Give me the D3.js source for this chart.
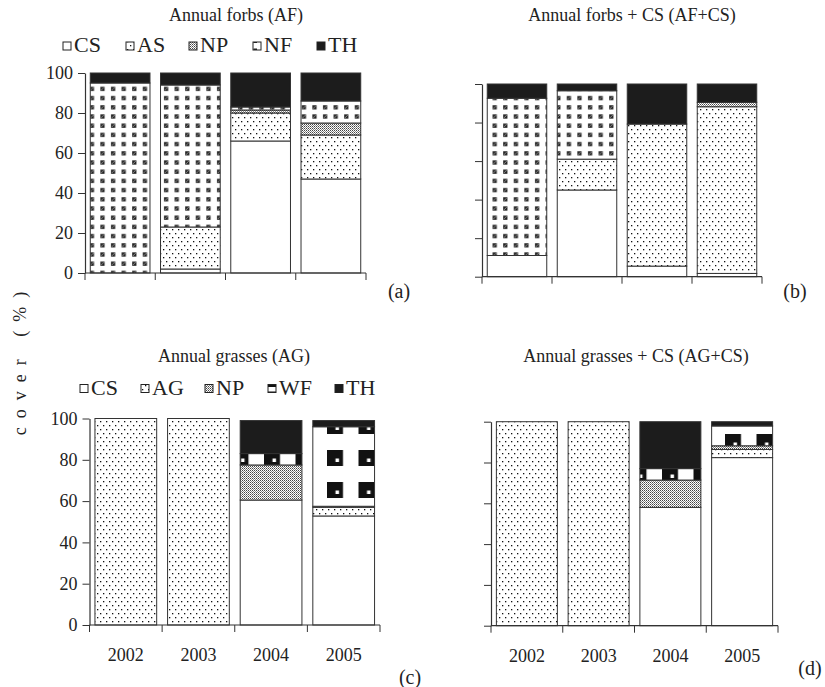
<!DOCTYPE html>
<html>
<head>
<meta charset="utf-8">
<script src="https://cdn.jsdelivr.net/npm/d3@7"></script>
<style>
html,body{margin:0;padding:0;background:#fff;}
svg{display:block;}
text{font-family:"Liberation Serif","DejaVu Serif",serif;fill:#222;}
</style>
</head>
<body>
<svg id="chart" width="825" height="687"></svg>
<script>
// ---------- data ----------
const years = ["2002", "2003", "2004", "2005"];
const yTicks = [0, 20, 40, 60, 80, 100];

// (a) Annual forbs (AF)
const afKeys = ["CS", "AS", "NP", "NF", "TH"];
const afCS = [0, 2, 66, 47];
const afAS = [0, 21, 14, 22];
const afNP = [0, 0, 1.5, 6];
const afNF = [95, 71, 1.5, 11];
const afTH = [5, 6, 17, 14];

// (b) Annual forbs + CS (AF+CS)
const afcsCS = [11, 45, 5.5, 1.7];
const afcsAS = [0, 16, 73.7, 86.5];
const afcsNP = [0, 0, 0, 2.3];
const afcsNF = [81.6, 35.5, 0, 0];
const afcsTH = [7.4, 3.5, 20.8, 9.5];

// (c) Annual grasses (AG)
const agKeys = ["CS", "AG", "NP", "WF", "TH"];
const agCS = [0, 0, 60.5, 52.8];
const agAG = [100, 100, 0, 4.2];
const agNP = [0, 0, 17, 0.5];
const agWF = [0, 0, 5.5, 38.5];
const agTH = [0, 0, 16, 3];

// (d) Annual grasses + CS (AG+CS)
const agcsCS = [0, 0, 58, 82.4];
const agcsAG = [100, 100, 0, 4];
const agcsNP = [0, 0, 13.4, 1.8];
const agcsWF = [0, 0, 5.6, 9.7];
const agcsTH = [0, 0, 23, 2.1];

// ---------- build tables ----------
function table(keys, cols) {
  return years.map((yr, i) => {
    const o = {year: yr};
    keys.forEach((k, j) => o[k] = cols[j][i]);
    return o;
  });
}

const svg = d3.select("#chart");
const defs = svg.append("defs");

// patterns
function pat(id, w, h, x0, y0) {
  return defs.append("pattern").attr("id", id).attr("patternUnits", "userSpaceOnUse")
    .attr("width", w).attr("height", h).attr("x", x0 || 0).attr("y", y0 || 0);
}
// dots (AS / AG)
let p = pat("dots", 6, 8);
p.append("rect").attr("width", 6).attr("height", 8).attr("fill", "#fff");
p.append("rect").attr("x", 1).attr("y", 1).attr("width", 1.3).attr("height", 1.3).attr("fill", "#111");
p.append("rect").attr("x", 4).attr("y", 5).attr("width", 1.3).attr("height", 1.3).attr("fill", "#111");
// dense stipple (NP)
p = pat("np", 2, 2);
p.append("rect").attr("width", 2).attr("height", 2).attr("fill", "#fff");
p.append("rect").attr("width", 1).attr("height", 1).attr("fill", "#444");
p.append("rect").attr("x", 1).attr("y", 1).attr("width", 1).attr("height", 1).attr("fill", "#888");
// squares (NF)
p = pat("nf", 10.6, 9.2, 2, 1);
p.append("rect").attr("width", 10.6).attr("height", 9.2).attr("fill", "#fff");
p.append("rect").attr("x", 3).attr("y", 3).attr("width", 4.2).attr("height", 4.2).attr("fill", "#222");
p.append("path").attr("d", "M3.8,6.4 L6.4,3.8").attr("stroke", "#999").attr("stroke-width", 0.9);
// legend NF icon
p = pat("nfIcon", 9, 9);
p.append("rect").attr("width", 9).attr("height", 9).attr("fill", "#fff");
p.append("rect").attr("x", 1.5).attr("y", 3.5).attr("width", 3.5).attr("height", 3.5).attr("fill", "#222");
// WF big squares (panel c & d phases)
function wf(id, x0, y0) {
  const q = pat(id, 31.5, 32, x0, y0);
  q.append("rect").attr("width", 31.5).attr("height", 32).attr("fill", "#fff");
  q.append("rect").attr("width", 16).attr("height", 16).attr("fill", "#111");
  q.append("rect").attr("x", 8.5).attr("y", 8.5).attr("width", 3.5).attr("height", 3.5).attr("fill", "#fff");
}
wf("wfc", 327, 450);
wf("wfd", 662, 434);
// legend WF icon
p = pat("wfIcon", 9, 9);
p.append("rect").attr("width", 9).attr("height", 9).attr("fill", "#fff");
p.append("rect").attr("y", 4.5).attr("width", 9).attr("height", 4.5).attr("fill", "#111");

const TH = "#1c1c1c";

const panels = [
  {keys: afKeys, data: table(afKeys, [afCS, afAS, afNP, afNF, afTH]),
   fills: {CS: "#fff", AS: "url(#dots)", NP: "url(#np)", NF: "url(#nf)", TH: TH},
   x0: 85, x1: 366, y0: 273, y1: 73, labels: true, xlabels: false,
   title: "Annual forbs (AF)", tx: 236, ty: 21, tag: "(a)", tagx: 399, tagy: 298},
  {keys: afKeys, data: table(afKeys, [afcsCS, afcsAS, afcsNP, afcsNF, afcsTH]),
   fills: {CS: "#fff", AS: "url(#dots)", NP: "url(#np)", NF: "url(#nf)", TH: TH},
   x0: 482, x1: 762, y0: 276.7, y1: 84, labels: false, xlabels: false,
   title: "Annual forbs + CS (AF+CS)", tx: 632, ty: 21, tag: "(b)", tagx: 795, tagy: 298},
  {keys: agKeys, data: table(agKeys, [agCS, agAG, agNP, agWF, agTH]),
   fills: {CS: "#fff", AG: "url(#dots)", NP: "url(#np)", WF: "url(#wfc)", TH: TH},
   x0: 89.5, x1: 380, y0: 625, y1: 418.5, labels: true, xlabels: true,
   title: "Annual grasses (AG)", tx: 234, ty: 362, tag: "(c)", tagx: 410, tagy: 684},
  {keys: agKeys, data: table(agKeys, [agcsCS, agcsAG, agcsNP, agcsWF, agcsTH]),
   fills: {CS: "#fff", AG: "url(#dots)", NP: "url(#np)", WF: "url(#wfd)", TH: TH},
   x0: 491, x1: 778, y0: 625.7, y1: 421.7, labels: false, xlabels: true,
   title: "Annual grasses + CS (AG+CS)", tx: 636, ty: 362, tag: "(d)", tagx: 810, tagy: 675}
];

panels.forEach(P => {
  const g = svg.append("g");
  const xb = d3.scaleBand().domain(years).range([P.x0, P.x1]).paddingInner(0.15).paddingOuter(0.075);
  const xc = d3.scaleBand().domain(years).range([P.x0, P.x1]).padding(0);
  const y = d3.scaleLinear().domain([0, 100]).range([P.y0, P.y1]);

  const series = d3.stack().keys(P.keys)(P.data);
  series.forEach(s => {
    g.selectAll(null).data(s.filter(d => d[1] - d[0] > 0)).join("rect")
      .attr("x", d => xb(d.data.year))
      .attr("width", xb.bandwidth())
      .attr("y", d => y(d[1]))
      .attr("height", d => y(d[0]) - y(d[1]))
      .attr("fill", P.fills[s.key])
      .attr("stroke", "#333").attr("stroke-width", 1);
  });

  // y axis
  const ya = d3.axisLeft(y).tickValues(yTicks).tickSize(7).tickSizeOuter(0)
    .tickFormat(P.labels ? d3.format("d") : () => "");
  const yg = g.append("g").attr("transform", `translate(${P.x0},0)`).call(ya);
  yg.select(".domain").attr("stroke", "#333").attr("stroke-width", 1.2);
  yg.selectAll(".tick line").attr("stroke", "#333").attr("stroke-width", 1);
  yg.selectAll(".tick text").attr("font-size", 18).attr("font-family", "Liberation Serif").attr("fill", "#222").attr("x", -12);

  // x axis: line + boundary ticks
  g.append("line").attr("x1", P.x0).attr("x2", P.x1).attr("y1", P.y0).attr("y2", P.y0)
    .attr("stroke", "#333").attr("stroke-width", 1.2);
  const bounds = years.map(v => xc(v)).concat([P.x1]);
  g.selectAll(null).data(bounds).join("line")
    .attr("x1", d => d).attr("x2", d => d).attr("y1", P.y0).attr("y2", P.y0 + 7)
    .attr("stroke", "#333").attr("stroke-width", 1);
  if (P.xlabels) {
    g.selectAll(null).data(years).join("text")
      .attr("x", d => xc(d) + xc.bandwidth() / 2).attr("y", P.y0 + 36)
      .attr("text-anchor", "middle").attr("font-size", 18).text(d => d);
  }
  g.append("text").attr("x", P.tx).attr("y", P.ty).attr("text-anchor", "middle")
    .attr("font-size", 18).text(P.title);
  g.append("text").attr("x", P.tagx).attr("y", P.tagy).attr("text-anchor", "middle")
    .attr("font-size", 20).text(P.tag);
});

// legends
function legend(keys, fills, xs, yIcon, yText) {
  const lg = svg.append("g");
  keys.forEach((k, i) => {
    lg.append("rect").attr("x", xs[i]).attr("y", yIcon).attr("width", 8).attr("height", 8)
      .attr("fill", fills[k]).attr("stroke", "#222").attr("stroke-width", 1);
    lg.append("text").attr("x", xs[i] + 11).attr("y", yText).attr("font-size", 22).text(k);
  });
}
legend(afKeys, {CS: "#fff", AS: "url(#dots)", NP: "url(#np)", NF: "url(#nfIcon)", TH: TH},
  [63, 126, 189, 253, 317], 42, 52);
legend(agKeys, {CS: "#fff", AG: "url(#dots)", NP: "url(#np)", WF: "url(#wfIcon)", TH: TH},
  [80, 141, 205, 268, 335], 384.5, 395);

// y axis title
svg.append("text").attr("transform", "translate(26,359) rotate(-90)")
  .attr("text-anchor", "middle").attr("font-size", 18).attr("letter-spacing", 9)
  .text("cover (%)");
</script>
</body>
</html>
